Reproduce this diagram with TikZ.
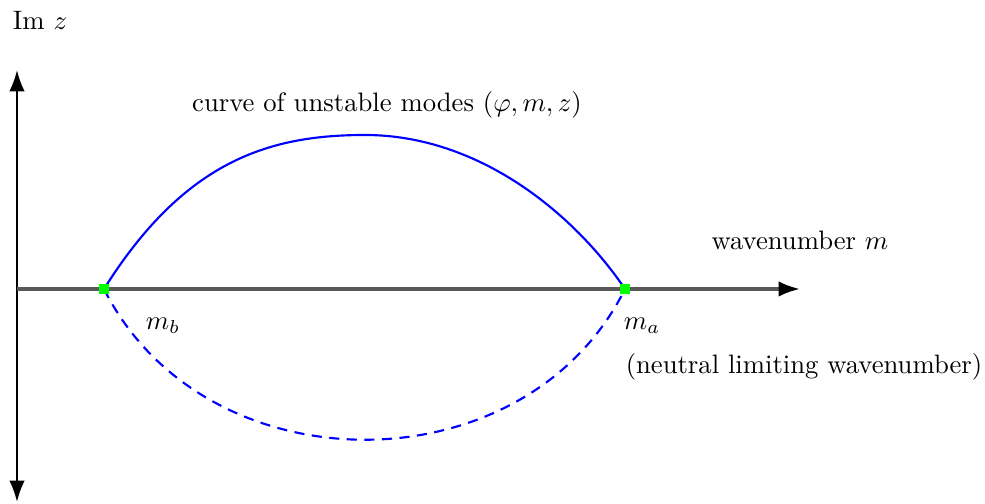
\documentclass[tikz,border=0pt]{standalone}
\usepackage{amsmath, amssymb}
\usepackage{xcolor}
\usetikzlibrary{arrows.meta}

\begin{document}
\begin{tikzpicture}[x=0.375pt,y=-0.375pt]
\tikzset{axis/.style={line width=0.8pt,>={Latex[length=8pt,width=5.8pt,color=black]}},
         mode/.style={line width=0.8pt,color=blue},
         endpt/.style={fill=green,inner sep=0pt,minimum size=3.4pt}}
\useasboundingbox (0,0) rectangle (985,504);
% Axes
\coordinate (top) at (17,70);
\coordinate (bot) at (17,502);
\coordinate (org) at (17,289);
\coordinate (tip) at (800,289);
\draw[axis,<->](bot)--(top);
\draw[axis,->,line width=1.2pt,color=black!65](org)--(tip);
% neutral wavenumbers
\coordinate (mb) at (104,289);
\coordinate (ma) at (625,289);
\coordinate (peak) at (365,135);
% curve of unstable modes
\draw[mode](mb) .. controls (185,160) and (270,135) .. (peak)
  .. controls (480,135) and (575,215) .. (ma);
% its mirror image
\draw[mode,dash pattern=on 3.8pt off 2.8pt](mb) .. controls (205,490) and (525,490) .. (ma);
% add squares at m_b and m_a
\node[endpt] (sqb) at (mb) {};
\node[endpt] (sqa) at (ma) {};
% Labels
\node (imz) at (40,20) {Im $z$};
\node (title) at (387,105) {curve of unstable modes $(\varphi,m,z)$};
\node (wav) at (800,240) {wavenumber $m$};
\node (lblb) at (163,326) {$m_b$};
\node (lbla) at (642,326) {$m_a$};
\node (neut) at (804,367) {(neutral limiting wavenumber)};
\end{tikzpicture}
\end{document}
